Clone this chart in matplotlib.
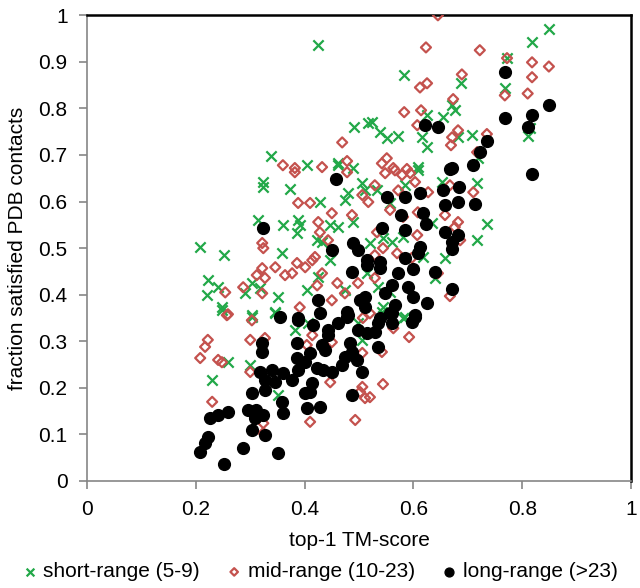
import matplotlib
matplotlib.use("Agg")
import matplotlib.pyplot as plt

# short-range (5-9) contacts
short_x = [0.425, 0.338, 0.491, 0.517, 0.404, 0.461, 0.489, 0.849, 0.818, 0.772,
           0.583, 0.688, 0.768, 0.671, 0.676, 0.654, 0.625, 0.524, 0.539, 0.551,
           0.572, 0.616, 0.625, 0.682, 0.708, 0.814, 0.810, 0.608, 0.719, 0.324,
           0.324, 0.373, 0.314, 0.360, 0.388, 0.391, 0.386, 0.208, 0.252, 0.358,
           0.423, 0.432, 0.428, 0.474, 0.480, 0.506, 0.511, 0.447, 0.461, 0.489,
           0.520, 0.222, 0.241, 0.221, 0.248, 0.303, 0.318, 0.290, 0.351, 0.404,
           0.425, 0.447, 0.474, 0.515, 0.461, 0.303, 0.346, 0.608, 0.533, 0.585,
           0.653, 0.717, 0.735, 0.717, 0.658, 0.618, 0.561, 0.544, 0.634, 0.581,
           0.640, 0.535, 0.557, 0.585, 0.544, 0.557, 0.259, 0.230, 0.300, 0.351,
           0.382, 0.406, 0.303, 0.346, 0.506, 0.498, 0.248, 0.542, 0.581]
short_y = [0.936, 0.697, 0.760, 0.768, 0.678, 0.678, 0.672, 0.970, 0.942, 0.908,
           0.871, 0.854, 0.843, 0.807, 0.796, 0.781, 0.785, 0.770, 0.749, 0.736,
           0.740, 0.738, 0.717, 0.738, 0.742, 0.757, 0.740, 0.674, 0.693, 0.642,
           0.631, 0.627, 0.560, 0.549, 0.560, 0.549, 0.532, 0.502, 0.485, 0.489,
           0.517, 0.513, 0.599, 0.603, 0.618, 0.639, 0.624, 0.549, 0.545, 0.556,
           0.511, 0.431, 0.416, 0.399, 0.373, 0.425, 0.414, 0.403, 0.395, 0.410,
           0.438, 0.474, 0.410, 0.446, 0.682, 0.352, 0.363, 0.667, 0.624, 0.635,
           0.642, 0.639, 0.551, 0.517, 0.479, 0.481, 0.513, 0.521, 0.554, 0.524,
           0.436, 0.416, 0.406, 0.352, 0.373, 0.597, 0.255, 0.217, 0.249, 0.185,
           0.324, 0.339, 0.356, 0.360, 0.303, 0.339, 0.367, 0.363, 0.350]

# mid-range (10-23) contacts
mid_x = [0.469, 0.478, 0.360, 0.382, 0.432, 0.645, 0.623, 0.722, 0.772, 0.818,
         0.849, 0.818, 0.689, 0.625, 0.612, 0.768, 0.810, 0.673, 0.583, 0.614,
         0.607, 0.682, 0.671, 0.669, 0.735, 0.717, 0.551, 0.542, 0.563, 0.588,
         0.382, 0.478, 0.388, 0.410, 0.450, 0.487, 0.506, 0.517, 0.425, 0.428,
         0.443, 0.322, 0.324, 0.322, 0.346, 0.364, 0.377, 0.386, 0.401, 0.414,
         0.419, 0.312, 0.327, 0.432, 0.423, 0.287, 0.254, 0.322, 0.460, 0.498,
         0.450, 0.391, 0.259, 0.474, 0.520, 0.548, 0.566, 0.579, 0.594, 0.603,
         0.529, 0.572, 0.627, 0.667, 0.710, 0.557, 0.581, 0.608, 0.658, 0.682,
         0.676, 0.533, 0.607, 0.686, 0.544, 0.570, 0.597, 0.529, 0.645, 0.529,
         0.667, 0.257, 0.303, 0.222, 0.217, 0.208, 0.241, 0.248, 0.300, 0.327,
         0.300, 0.230, 0.324, 0.324, 0.404, 0.410, 0.447, 0.493, 0.506, 0.511,
         0.502, 0.506, 0.450, 0.507, 0.414, 0.592, 0.542, 0.544, 0.520, 0.563]
mid_y = [0.727, 0.687, 0.678, 0.672, 0.674, 1.000, 0.931, 0.925, 0.908, 0.899,
         0.890, 0.867, 0.873, 0.854, 0.845, 0.828, 0.832, 0.820, 0.792, 0.796,
         0.764, 0.753, 0.738, 0.721, 0.745, 0.706, 0.693, 0.682, 0.672, 0.670,
         0.663, 0.663, 0.597, 0.597, 0.575, 0.571, 0.614, 0.599, 0.556, 0.534,
         0.517, 0.511, 0.500, 0.457, 0.459, 0.442, 0.446, 0.468, 0.459, 0.474,
         0.481, 0.442, 0.436, 0.446, 0.420, 0.416, 0.405, 0.403, 0.425, 0.425,
         0.388, 0.373, 0.358, 0.403, 0.360, 0.661, 0.667, 0.657, 0.661, 0.642,
         0.635, 0.624, 0.620, 0.635, 0.620, 0.582, 0.567, 0.577, 0.571, 0.556,
         0.545, 0.534, 0.528, 0.517, 0.500, 0.489, 0.479, 0.485, 0.446, 0.436,
         0.397, 0.356, 0.345, 0.303, 0.288, 0.264, 0.260, 0.255, 0.303, 0.307,
         0.234, 0.170, 0.124, 0.103, 0.292, 0.127, 0.212, 0.131, 0.202, 0.178,
         0.191, 0.275, 0.298, 0.350, 0.313, 0.309, 0.277, 0.208, 0.180, 0.328]

# long-range (>23) contacts
long_x = [0.768, 0.768, 0.818, 0.810, 0.849, 0.621, 0.645, 0.735, 0.722, 0.710,
          0.670, 0.818, 0.667, 0.612, 0.654, 0.684, 0.682, 0.713, 0.658, 0.551,
          0.585, 0.618, 0.623, 0.577, 0.542, 0.585, 0.658, 0.682, 0.671, 0.671,
          0.612, 0.608, 0.585, 0.539, 0.539, 0.599, 0.640, 0.572, 0.561, 0.590,
          0.548, 0.599, 0.625, 0.566, 0.671, 0.603, 0.557, 0.539, 0.458, 0.324,
          0.489, 0.450, 0.498, 0.515, 0.515, 0.487, 0.425, 0.511, 0.502, 0.511,
          0.428, 0.478, 0.355, 0.388, 0.478, 0.388, 0.415, 0.443, 0.443, 0.461,
          0.480, 0.498, 0.515, 0.322, 0.322, 0.386, 0.386, 0.410, 0.432, 0.437,
          0.483, 0.487, 0.474, 0.496, 0.469, 0.401, 0.388, 0.423, 0.434, 0.450,
          0.506, 0.318, 0.340, 0.360, 0.377, 0.327, 0.346, 0.327, 0.303, 0.414,
          0.410, 0.401, 0.487, 0.358, 0.360, 0.296, 0.311, 0.324, 0.309, 0.404,
          0.428, 0.226, 0.241, 0.259, 0.303, 0.327, 0.222, 0.217, 0.208, 0.287,
          0.351, 0.252, 0.535, 0.529, 0.561, 0.561, 0.603, 0.597, 0.535]
long_y = [0.878, 0.779, 0.785, 0.760, 0.807, 0.764, 0.760, 0.730, 0.706, 0.678,
          0.672, 0.659, 0.670, 0.618, 0.624, 0.631, 0.599, 0.594, 0.592, 0.609,
          0.609, 0.575, 0.551, 0.571, 0.543, 0.539, 0.534, 0.528, 0.513, 0.498,
          0.502, 0.489, 0.479, 0.470, 0.457, 0.455, 0.448, 0.446, 0.420, 0.416,
          0.403, 0.395, 0.382, 0.378, 0.412, 0.356, 0.360, 0.350, 0.648, 0.543,
          0.511, 0.496, 0.496, 0.474, 0.464, 0.448, 0.388, 0.395, 0.388, 0.373,
          0.360, 0.363, 0.352, 0.350, 0.352, 0.345, 0.335, 0.324, 0.313, 0.339,
          0.356, 0.324, 0.318, 0.296, 0.277, 0.296, 0.264, 0.275, 0.292, 0.281,
          0.296, 0.277, 0.266, 0.260, 0.249, 0.255, 0.238, 0.242, 0.238, 0.234,
          0.234, 0.234, 0.238, 0.232, 0.217, 0.217, 0.212, 0.195, 0.189, 0.210,
          0.191, 0.189, 0.185, 0.170, 0.146, 0.152, 0.152, 0.142, 0.135, 0.157,
          0.159, 0.135, 0.142, 0.148, 0.109, 0.099, 0.094, 0.082, 0.062, 0.071,
          0.060, 0.036, 0.339, 0.320, 0.339, 0.360, 0.352, 0.341, 0.288]

x_ticks = [0, 0.2, 0.4, 0.6, 0.8, 1]
y_ticks = [0, 0.1, 0.2, 0.3, 0.4, 0.5, 0.6, 0.7, 0.8, 0.9, 1]

GREEN = "#22a848"
RED = "#c4524e"
GREY = "#868686"

plt.rcParams["font.family"] = ["Liberation Sans", "DejaVu Sans"]
plt.rcParams["font.size"] = 15

fig = plt.figure(figsize=(6.4, 5.88), dpi=100)
ax = fig.add_axes([0.136, 0.182, 0.850, 0.792])

ax.scatter(short_x, short_y, marker="x", s=55, color=GREEN, linewidths=1.6,
           label="short-range (5-9)", zorder=3)
ax.scatter(mid_x, mid_y, marker="D", s=26, facecolors="none", edgecolors=RED,
           linewidths=1.6, label="mid-range (10-23)", zorder=4)
ax.scatter(long_x, long_y, marker="o", s=72, color="black",
           label="long-range (>23)", zorder=5)

ax.set_xlim(0, 1)
ax.set_ylim(0, 1)
ax.set_xticks(x_ticks)
ax.set_xticklabels(["0", "0.2", "0.4", "0.6", "0.8", "1"])
ax.set_yticks(y_ticks)
ax.set_yticklabels(["0", "0.1", "0.2", "0.3", "0.4", "0.5", "0.6", "0.7", "0.8", "0.9", "1"])

for side in ("bottom", "left"):
    ax.spines[side].set_color(GREY)
    ax.spines[side].set_linewidth(1.2)
for side in ("top", "right"):
    ax.spines[side].set_color("black")
    ax.spines[side].set_linewidth(1.8)
ax.tick_params(direction="out", length=6, width=1.2, color=GREY, pad=8)

ax.set_xlabel("top-1 TM-score", labelpad=8)
ax.set_ylabel("fraction satisfied PDB contacts", labelpad=8)

fig.legend(loc="lower center", bbox_to_anchor=(0.5, -0.01), ncol=3, frameon=False,
           handlelength=0.7, handletextpad=0.3, columnspacing=1.3, markerscale=0.75,
           fontsize=15, borderaxespad=0.2)

fig.savefig("out.png", dpi=100)
